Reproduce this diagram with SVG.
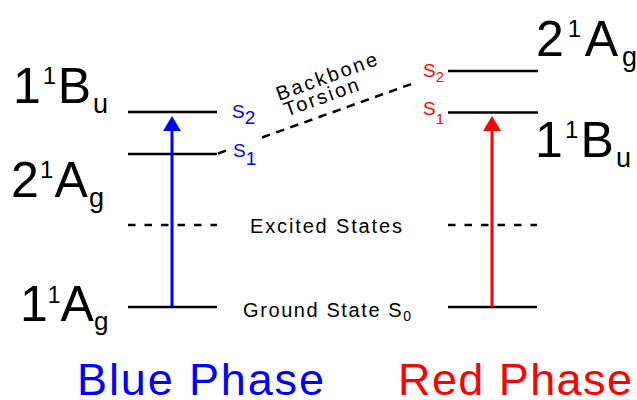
<svg xmlns="http://www.w3.org/2000/svg" width="637" height="400" viewBox="0 0 637 400">
<style>
  .lvl { stroke: #000; stroke-width: 2.5; fill: none; }
  .dash { stroke: #000; stroke-width: 2.5; fill: none; stroke-dasharray: 7.5 9; }
  .diag { stroke: #000; stroke-width: 2.5; fill: none; stroke-dasharray: 8.5 6.5; }
  .big { font-family: "Liberation Sans", Arial, sans-serif; font-size: 50px; fill: #000; }
  .mid { font-family: "Liberation Sans", Arial, sans-serif; font-size: 20px; fill: #000; }
  .st { font-family: "Liberation Sans", Arial, sans-serif; font-size: 19px; }
  .phase { font-family: "Liberation Sans", Arial, sans-serif; font-size: 45px; }
  .blue { fill: #0000FF; }
  .red { fill: #FF0000; }
</style>
<defs>
  <marker id="ahBlue" markerUnits="userSpaceOnUse" markerWidth="15" markerHeight="18" refX="0" refY="9" orient="auto">
    <path d="M0,0 L15,9 L0,18 Z" fill="#0000FF"/>
  </marker>
  <marker id="ahRed" markerUnits="userSpaceOnUse" markerWidth="15" markerHeight="18" refX="0" refY="9" orient="auto">
    <path d="M0,0 L15,9 L0,18 Z" fill="#FF0000"/>
  </marker>
</defs>
<rect width="637" height="400" fill="#fff"/>

<!-- Blue phase levels -->
<g id="blue-S2">
  <line class="lvl" x1="128" y1="112" x2="217" y2="112"/>
  <text class="st blue" x="232" y="117.5">S<tspan dy="6">2</tspan></text>
</g>
<g id="blue-S1">
  <line class="lvl" x1="128" y1="154" x2="217" y2="154"/>
  <text class="st blue" x="233" y="157">S<tspan dy="8">1</tspan></text>
</g>
<g id="blue-excited">
  <line class="dash" x1="128" y1="225" x2="217" y2="225"/>
</g>
<g id="blue-ground">
  <line class="lvl" x1="128" y1="307" x2="217" y2="307"/>
</g>

<!-- Red phase levels -->
<g id="red-S2">
  <line class="lvl" x1="448" y1="71" x2="538" y2="71"/>
  <text class="st red" x="423" y="77">S<tspan dy="5" font-size="15">2</tspan></text>
</g>
<g id="red-S1">
  <line class="lvl" x1="448" y1="112.5" x2="538" y2="112.5"/>
  <text class="st red" x="423" y="115">S<tspan dy="9" font-size="15">1</tspan></text>
</g>
<g id="red-excited">
  <line class="dash" x1="448" y1="225" x2="537" y2="225"/>
</g>
<g id="red-ground">
  <line class="lvl" x1="448" y1="307" x2="537" y2="307"/>
</g>

<!-- State term labels -->
<g id="label-left-1Bu">
  <text class="big" x="13" y="103" textLength="95" lengthAdjust="spacing">1<tspan font-size="24" dy="-19">1</tspan><tspan dy="19">B</tspan><tspan font-size="27" dy="10">u</tspan></text>
</g>
<g id="label-left-2Ag">
  <text class="big" x="11" y="197" textLength="93" lengthAdjust="spacing">2<tspan font-size="24" dy="-19">1</tspan><tspan dy="19">A</tspan><tspan font-size="27" dy="10">g</tspan></text>
</g>
<g id="label-left-1Ag">
  <text class="big" x="20" y="321" font-size="47">1<tspan font-size="23" dy="-18">1</tspan><tspan dy="18">A</tspan><tspan font-size="26" dy="9">g</tspan></text>
</g>
<g id="label-right-2Ag">
  <text class="big" x="536" y="56" textLength="101" lengthAdjust="spacing">2<tspan font-size="24" dy="-19">1</tspan><tspan dy="19">A</tspan><tspan font-size="27" dy="10">g</tspan></text>
</g>
<g id="label-right-1Bu">
  <text class="big" x="535" y="157" textLength="96" lengthAdjust="spacing">1<tspan font-size="24" dy="-19">1</tspan><tspan dy="19">B</tspan><tspan font-size="27" dy="10">u</tspan></text>
</g>

<!-- Middle texts -->
<g id="excited-states">
  <text class="mid" x="326" y="233" text-anchor="middle" textLength="152" lengthAdjust="spacing">Excited States</text>
</g>
<g id="ground-state">
  <text class="mid" x="243" y="317" textLength="168" lengthAdjust="spacing">Ground State S<tspan font-size="14" dy="4">0</tspan></text>
</g>
<g id="torsion-label">
  <g transform="translate(279,101) rotate(-20)">
    <text class="mid" x="0" y="0" font-size="19" textLength="106" lengthAdjust="spacing">Backbone</text>
    <text class="mid" x="2" y="17.5" font-size="19" textLength="78" lengthAdjust="spacing">Torsion</text>
  </g>
</g>

<!-- Phase titles -->
<g id="blue-phase">
  <text class="phase blue" x="77" y="395" textLength="247" lengthAdjust="spacing">Blue Phase</text>
</g>
<g id="red-phase">
  <text class="phase red" x="398" y="395" textLength="234" lengthAdjust="spacing">Red Phase</text>
</g>

<!-- Connectors -->
<g id="connectors">
  <line x1="172" y1="307" x2="172" y2="131" stroke="#0000FF" stroke-width="3" marker-end="url(#ahBlue)"/>
  <line x1="492" y1="307" x2="492" y2="131" stroke="#FF0000" stroke-width="3" marker-end="url(#ahRed)"/>
  <line class="diag" x1="218" y1="153.5" x2="229" y2="149.6"/>
  <line class="diag" x1="262" y1="137.5" x2="417" y2="82"/>
</g>
</svg>
